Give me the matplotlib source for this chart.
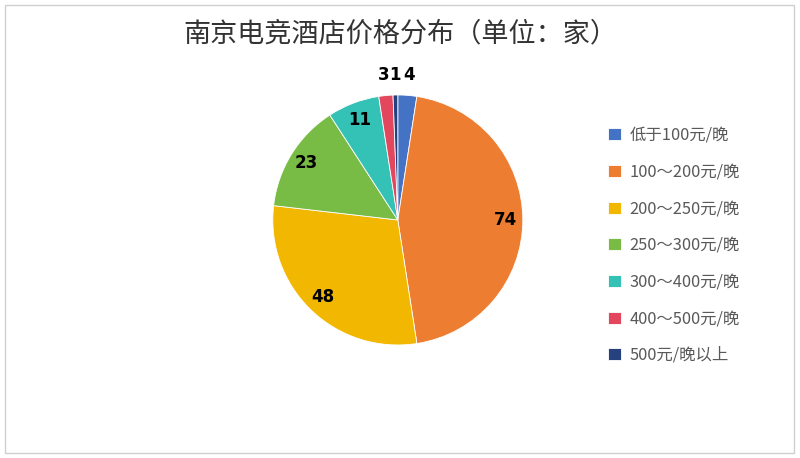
import numpy as np
import matplotlib.pyplot as plt
from matplotlib.patches import Rectangle

plt.rcParams['font.family'] = ['Noto Sans CJK SC', 'DejaVu Sans']

categories = ['低于100元/晚', '100～200元/晚', '200～250元/晚', '250～300元/晚',
              '300～400元/晚', '400～500元/晚', '500元/晚以上']
counts = [4, 74, 48, 23, 11, 3, 1]
colors = ['#4472C4', '#ED7D31', '#F2B700', '#78BB45', '#34C1B6', '#E2475D', '#25427E']

fig = plt.figure(figsize=(8, 4.58), dpi=100)
fig.patches.append(Rectangle((0.006, 0.011), 0.986, 0.977, transform=fig.transFigure,
                             fill=False, edgecolor='#D0D0D0', linewidth=1))

fig.text(0.5, 0.925, '南京电竞酒店价格分布（单位：家）', ha='center', va='center',
         fontsize=19.5, color='#333333', fontweight='medium')

ax = fig.add_axes([0.341, 0.2467, 0.3125, 0.546])
wedges, _ = ax.pie(counts, colors=colors, startangle=90, counterclock=False,
                   wedgeprops=dict(edgecolor='white', linewidth=0.6))
ax.set_aspect('equal')
ax.set_xlim(-1, 1)
ax.set_ylim(-1, 1)

# data labels: big slices inside, tiny ones above the pie
small_pos = {5: -0.115, 6: -0.02, 0: 0.09}
for i, (w, v) in enumerate(zip(wedges, counts)):
    ang = np.deg2rad((w.theta1 + w.theta2) / 2)
    if i in small_pos:
        x, y = small_pos[i], 1.16
    else:
        x, y = 0.86 * np.cos(ang), 0.86 * np.sin(ang)
    ax.text(x, y, str(v), ha='center', va='center', fontsize=12,
            fontweight='heavy', color='black', family='DejaVu Sans')

leg = fig.legend(wedges, categories, loc='upper left', bbox_to_anchor=(0.742, 0.755),
                 frameon=False, fontsize=11.8, handlelength=0.75, handleheight=0.75,
                 handletextpad=0.55, labelspacing=1.2)
for t in leg.get_texts():
    t.set_color('#595959')

fig.savefig('out.png', dpi=100)
